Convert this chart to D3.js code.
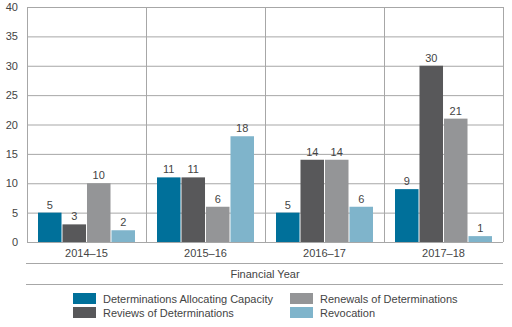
<!DOCTYPE html>
<html>
<head>
<meta charset="utf-8">
<script src="https://cdn.jsdelivr.net/npm/d3@7"></script>
<style>
  body { margin: 0; background: #fff; }
  text { font-family: "Liberation Sans", Arial, sans-serif; fill: #444; }
</style>
</head>
<body>
<div id="chart"></div>
<script>
const years = ["2014–15", "2015–16", "2016–17", "2017–18"];
const seriesNames = [
  "Determinations Allocating Capacity",
  "Reviews of Determinations",
  "Renewals of Determinations",
  "Revocation"
];
const allocating = [5, 11, 5, 9];
const reviews = [3, 11, 14, 30];
const renewals = [10, 6, 14, 21];
const revocation = [2, 18, 6, 1];
const yTicks = [0, 5, 10, 15, 20, 25, 30, 35, 40];

const colours = ["#00709a", "#58585a", "#949597", "#7fb4cb"];
const allSeries = [allocating, reviews, renewals, revocation];

const svgWidth = 512,
  svgHeight = 327,
  margin = { top: 7, right: 9, left: 27 },
  plotBottom = 242;

const svg = d3.select("#chart").append("svg")
  .attr("width", svgWidth)
  .attr("height", svgHeight);

let x = d3.scaleBand().domain(years).range([margin.left, svgWidth - margin.right]).paddingInner(0).paddingOuter(0);
let x1 = d3.scaleBand().domain(d3.range(4)).range([11, x.bandwidth() - 11]).paddingInner(0.04);
let y = d3.scaleLinear().domain([0, 40]).range([plotBottom, margin.top]);

// horizontal gridlines
svg.append("g")
  .selectAll("line")
  .data(yTicks)
  .join("line")
  .attr("x1", margin.left)
  .attr("x2", svgWidth - margin.right)
  .attr("y1", d => y(d) + 0.5)
  .attr("y2", d => y(d) + 0.5)
  .attr("stroke", "#a7a7a7")
  .attr("stroke-width", 1);

// vertical dividers between years
const edges = years.map(d => x(d)).concat([svgWidth - margin.right]);
svg.append("g")
  .selectAll("line")
  .data(edges)
  .join("line")
  .attr("x1", d => Math.round(d) + 0.5)
  .attr("x2", d => Math.round(d) + 0.5)
  .attr("y1", y(40))
  .attr("y2", y(0))
  .attr("stroke", "#a7a7a7");

// y tick labels
svg.append("g")
  .selectAll("text")
  .data(yTicks)
  .join("text")
  .attr("x", 18)
  .attr("y", d => y(d) + 4)
  .attr("text-anchor", "end")
  .attr("font-size", 11)
  .text(d => d);

// bars
const groups = svg.append("g")
  .selectAll("g")
  .data(years)
  .join("g")
  .attr("transform", d => "translate(" + x(d) + ",0)");

groups.each(function(year, yi) {
  const g = d3.select(this);
  allSeries.forEach((vals, si) => {
    g.append("rect")
      .attr("x", x1(si))
      .attr("width", x1.bandwidth())
      .attr("y", y(vals[yi]))
      .attr("height", y(0) - y(vals[yi]))
      .attr("fill", colours[si]);
    g.append("text")
      .attr("x", x1(si) + x1.bandwidth() / 2)
      .attr("y", y(vals[yi]) - 4)
      .attr("text-anchor", "middle")
      .attr("font-size", 11)
      .text(vals[yi]);
  });
});

// category labels
svg.append("g")
  .selectAll("text")
  .data(years)
  .join("text")
  .attr("x", d => x(d) + x.bandwidth() / 2)
  .attr("y", 257)
  .attr("text-anchor", "middle")
  .attr("font-size", 11)
  .text(d => d);

// rules around axis title
[263.5, 284.5].forEach(yy => {
  svg.append("line")
    .attr("x1", 26)
    .attr("x2", svgWidth - margin.right)
    .attr("y1", yy)
    .attr("y2", yy)
    .attr("stroke", "#a7a7a7");
});

svg.append("text")
  .attr("x", (margin.left + svgWidth - margin.right) / 2)
  .attr("y", 278)
  .attr("text-anchor", "middle")
  .attr("font-size", 11)
  .text("Financial Year");

// legend, two columns
const legendPos = [[73, 293], [73, 307], [290, 293], [290, 307]];
const legend = svg.append("g")
  .selectAll("g")
  .data(seriesNames)
  .join("g")
  .attr("transform", (d, i) => "translate(" + legendPos[i][0] + "," + legendPos[i][1] + ")");

legend.append("rect")
  .attr("width", 23)
  .attr("height", 11)
  .attr("fill", (d, i) => colours[i]);

legend.append("text")
  .attr("x", 30)
  .attr("y", 9.5)
  .attr("font-size", 11)
  .text(d => d);
</script>
</body>
</html>
